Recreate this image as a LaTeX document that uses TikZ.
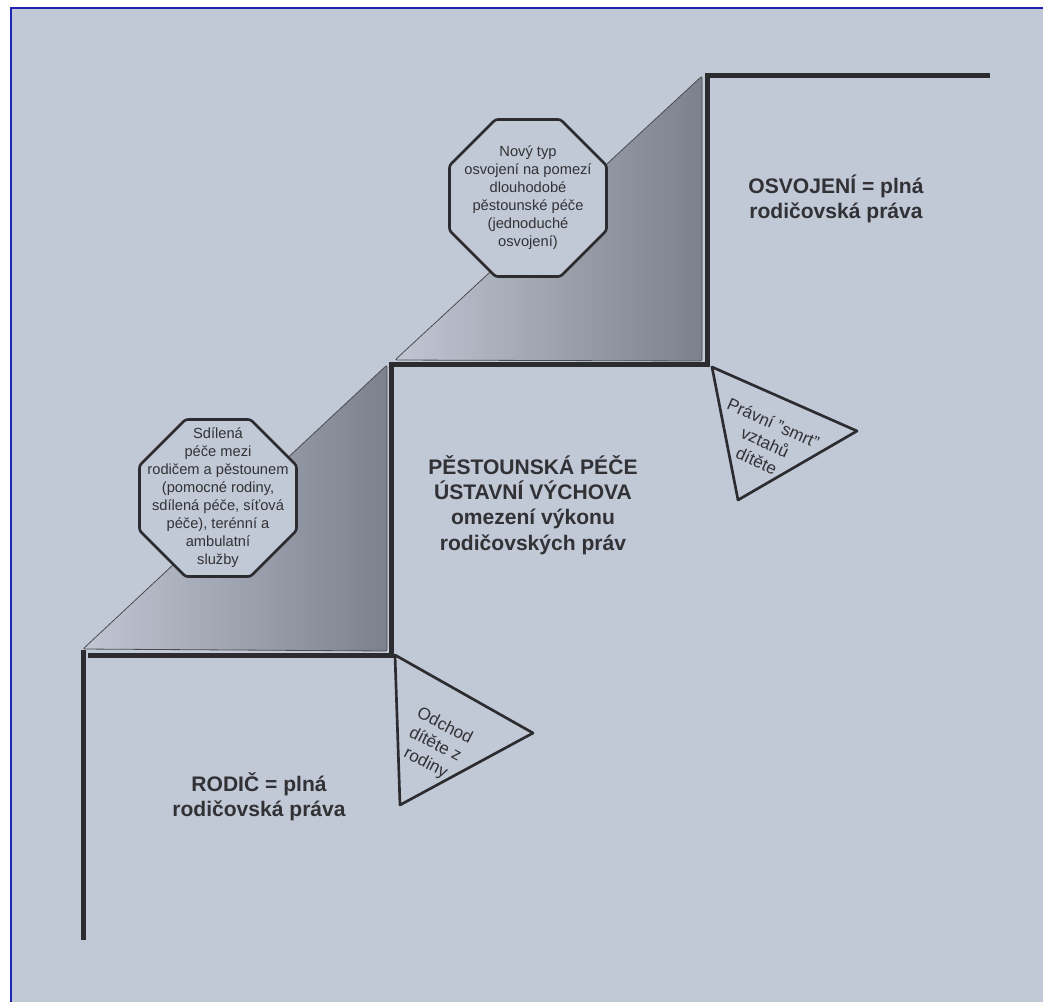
\documentclass[tikz,border=0pt]{standalone}
\usepackage{fontspec}
\setmainfont{Liberation Sans}
\usepackage{xcolor}
\usetikzlibrary{shapes.geometric}
\definecolor{paper}{RGB}{193,200,214}
\definecolor{frameblue}{RGB}{30,36,178}
\definecolor{ink}{RGB}{44,44,48}
\definecolor{textgray}{RGB}{50,50,54}
\definecolor{shadedark}{RGB}{124,129,140}
\definecolor{shadelight}{RGB}{192,198,211}
\tikzset{
  stair/.style     = { line width=3.75pt, ink },
  ramp/.style      = { draw=ink!85, line width=0.6pt, rounded corners=1.5pt, left color=shadelight, right color=shadedark },
  octa/.style      = { draw=ink, line width=2pt, fill=paper, regular polygon, regular polygon sides=8, minimum size=127.5pt, inner sep=0pt, rounded corners=2pt },
  octatext/.style  = { align=center, text=textgray, font=\fontsize{11}{13.5}\selectfont },
  notch/.style     = { draw=ink, line width=2pt, fill=paper, line join=round },
  notchtext/.style = { align=center, text=textgray, font=\fontsize{12.8}{15.5}\selectfont },
  heading/.style   = { align=center, text=textgray, font=\bfseries\fontsize{15.8}{19}\selectfont }
}

\begin{document}
\begin{tikzpicture}[x=0.75pt,y=-0.75pt]
  \path[use as bounding box, clip] (0,0) rectangle (1043,1001);
  % Draw background and frame
  \fill[white] (0,0) rectangle (1043,1001);
  \draw[frameblue, line width=1.9pt, fill=paper] (11,8) rectangle (1070,1030);
  % Draw shaded ramps
  \draw[ramp] (83,649) -- (387,365) -- (387,651) -- cycle;
  \draw[ramp] (395,360) -- (702,76) -- (702,361) -- cycle;
  % Draw stairs
  \coordinate (base) at (83,940);
  \coordinate (foot) at (83,650);
  \coordinate (t1a) at (88,655);
  \coordinate (t1b) at (391,655);
  \coordinate (t2a) at (391,364);
  \coordinate (t2b) at (707,364);
  \coordinate (t3a) at (707,75);
  \coordinate (t3b) at (990,75);
  \draw[stair] (foot) -- (base);
  \draw[stair] (t1a) -- (t1b) -- (t2a) -- (t2b) -- (t3a) -- (t3b);
  % Draw octagons
  \node[octa] (shared) at (218,498) {};
  \node[octatext] (sharedtxt) at (shared) {Sdílená\\péče mezi\\rodičem a pěstounem\\(pomocné rodiny,\\sdílená péče, síťová\\péče), terénní a\\ambulatní\\služby};
  \node[octa] (simple) at (528,198) {};
  \node[octatext] (simpletxt) at (simple) {Nový typ\\osvojení na pomezí\\dlouhodobé\\pěstounské péče\\(jednoduché\\osvojení)};
  % Draw triangles
  \draw[notch] (395,655) -- (533,733) -- (400,805) -- cycle;
  \node[notchtext, rotate=-27] (leave) at (435,745) {Odchod\\dítěte z\\rodiny};
  \draw[notch] (712,367) -- (857,431) -- (738,500) -- cycle;
  \node[notchtext, rotate=-24] (death) at (765,442) {Právní "smrt"\\vztahů\\dítěte};
  % Draw labels
  \node[heading] (adopt) at (836,199) {OSVOJENÍ = plná\\rodičovská práva};
  \node[heading] (foster) at (533,505) {PĚSTOUNSKÁ PÉČE\\ÚSTAVNÍ VÝCHOVA\\omezení výkonu\\rodičovských práv};
  \node[heading] (parent) at (259,797) {RODIČ = plná\\rodičovská práva};
\end{tikzpicture}
\end{document}
